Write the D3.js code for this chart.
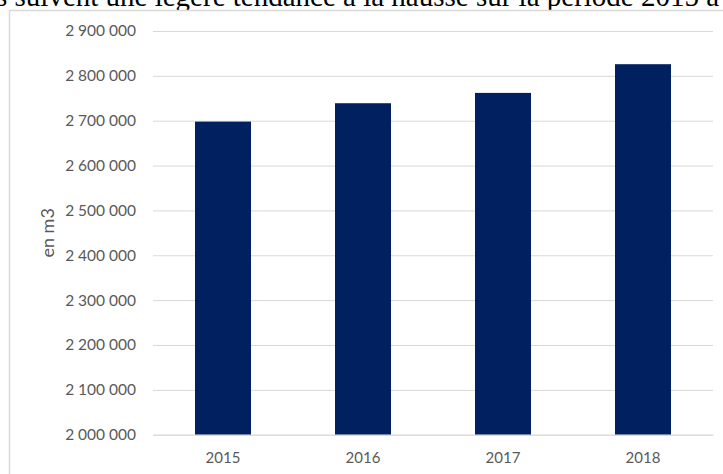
<!DOCTYPE html>
<html>
<head>
<meta charset="utf-8">
<script src="https://cdn.jsdelivr.net/npm/d3@7/dist/d3.min.js"></script>
<style>
  html, body { margin: 0; padding: 0; background: #fff; }
  svg { display: block; }
</style>
</head>
<body>
<svg id="chart" width="723" height="474"></svg>
<script>
// Annual volumes (m3)
const years = ["2015", "2016", "2017", "2018"];
const volumes = [2698000, 2739000, 2762000, 2826000];
const yTicks = [2000000, 2100000, 2200000, 2300000, 2400000, 2500000, 2600000, 2700000, 2800000, 2900000];
const yLabel = "en m3";
const caption = "s suivent une légère tendance à la hausse sur la période 2015 à 2018.";

const svg = d3.select("#chart");
const W = 723, H = 474;

const plot = { left: 153, right: 713, top: 31, bottom: 434.7 };

const x = d3.scaleBand()
  .domain(years)
  .range([plot.left, plot.right])
  .paddingInner(0.6)
  .paddingOuter(0.3);

const y = d3.scaleLinear()
  .domain([2000000, 2900000])
  .range([plot.bottom, plot.top]);

const fmt = v => d3.format(",")(v).replace(/,/g, " ");

// surrounding text line (partly above the chart frame)
svg.append("text")
  .attr("x", -4)
  .attr("y", 6)
  .attr("font-family", "'Liberation Serif', 'Times New Roman', serif")
  .attr("font-size", 29)
  .attr("fill", "#000")
  .text(caption);

// chart frame
svg.append("rect")
  .attr("x", 9.5).attr("y", 10.5)
  .attr("width", W + 20).attr("height", H + 20)
  .attr("fill", "#fff")
  .attr("stroke", "#d9d9d9")
  .attr("stroke-width", 1.5);

// horizontal gridlines + y axis labels
const yAxis = d3.axisLeft(y)
  .tickValues(yTicks)
  .tickSize(-(plot.right - plot.left))
  .tickPadding(17)
  .tickFormat(fmt);

const gy = svg.append("g")
  .attr("transform", `translate(${plot.left},0)`)
  .call(yAxis);
gy.select(".domain").remove();
gy.selectAll(".tick line")
  .attr("stroke", "#d9d9d9")
  .attr("stroke-width", 1);
gy.selectAll(".tick text")
  .attr("fill", "#595959")
  .attr("font-family", "Lato, 'Open Sans', sans-serif")
  .attr("font-size", 15.5);

// bars
svg.append("g")
  .selectAll("rect")
  .data(years.map((yr, i) => ({ yr, v: volumes[i] })))
  .join("rect")
  .attr("x", d => x(d.yr))
  .attr("y", d => y(d.v))
  .attr("width", x.bandwidth())
  .attr("height", d => y(2000000) - y(d.v))
  .attr("fill", "#002060");

// x axis
const xAxis = d3.axisBottom(x).tickSize(0).tickPadding(18);
const gx = svg.append("g")
  .attr("transform", `translate(0,${plot.bottom})`)
  .call(xAxis);
gx.select(".domain")
  .attr("stroke", "#d9d9d9")
  .attr("stroke-width", 1);
gx.selectAll(".tick text")
  .attr("fill", "#595959")
  .attr("font-family", "Lato, 'Open Sans', sans-serif")
  .attr("font-size", 15);

// y axis title
svg.append("text")
  .attr("transform", `translate(54,${(plot.top + plot.bottom) / 2}) rotate(-90)`)
  .attr("text-anchor", "middle")
  .attr("fill", "#595959")
  .attr("font-family", "Lato, 'Open Sans', sans-serif")
  .attr("font-size", 18)
  .text(yLabel);
</script>
</body>
</html>
